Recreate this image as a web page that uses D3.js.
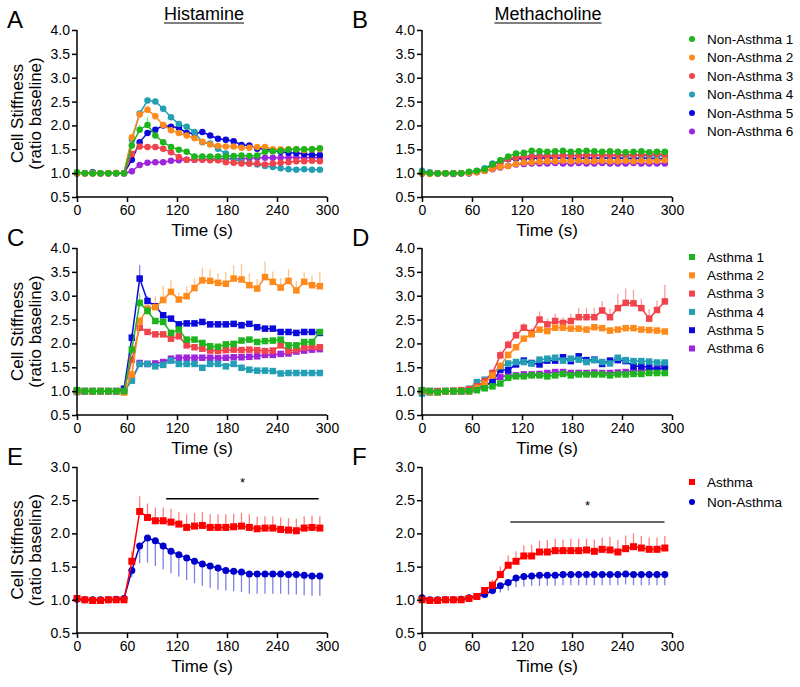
<!DOCTYPE html>
<html><head><meta charset="utf-8">
<script src="https://cdn.jsdelivr.net/npm/d3@7"></script>
<style>
body{margin:0;background:#fff}
text{font-family:"Liberation Sans",Arial,sans-serif;fill:#000}
</style>
</head><body>
<svg id="chart" width="800" height="687"></svg>
<script>
// ---------- DATA ----------
const times = [0,9.4,18.8,28.2,37.6,47,56.4,65.8,75.2,84.6,94,103.4,112.8,122.2,131.6,141,150.4,159.8,169.2,178.6,188,197.4,206.8,216.2,225.6,235,244.4,253.8,263.2,272.6,282,291.4];
const xTicks = [0,60,120,180,240,300];
const yTicksTall = [0.5,1.0,1.5,2.0,2.5,3.0,3.5,4.0];
const yTicksShort = [0.5,1.0,1.5,2.0,2.5,3.0];

const naNames = ["Non-Asthma 1","Non-Asthma 2","Non-Asthma 3","Non-Asthma 4","Non-Asthma 5","Non-Asthma 6"];
const aNames = ["Asthma 1","Asthma 2","Asthma 3","Asthma 4","Asthma 5","Asthma 6"];
const groupNames = ["Asthma","Non-Asthma"];

// Panel A: Histamine, Non-Asthma
const naHist1 = [1.02,1.0,0.99,1.0,1.0,1.0,1.0,1.58,1.91,2.01,1.79,1.65,1.55,1.49,1.45,1.35,1.35,1.35,1.35,1.35,1.36,1.37,1.36,1.37,1.45,1.46,1.47,1.49,1.5,1.5,1.5,1.52];
const naHist2 = [1.0,0.99,1.0,1.0,1.0,1.01,1.0,1.75,2.23,2.33,2.19,2.01,1.9,1.84,1.79,1.73,1.66,1.6,1.57,1.56,1.56,1.53,1.53,1.55,1.55,1.5,1.5,1.5,1.5,1.48,1.5,1.5];
const naHist3 = [1.0,1.0,1.0,0.99,1.0,1.0,1.0,1.4,1.56,1.55,1.55,1.51,1.44,1.34,1.28,1.28,1.28,1.27,1.27,1.23,1.22,1.2,1.2,1.2,1.18,1.2,1.22,1.23,1.25,1.25,1.26,1.25];
const naHist4 = [1.0,1.0,1.01,1.0,1.0,1.0,1.0,1.7,2.25,2.52,2.5,2.35,2.17,2.03,1.97,1.86,1.65,1.62,1.51,1.41,1.3,1.23,1.2,1.18,1.15,1.13,1.1,1.08,1.07,1.08,1.07,1.07];
const naHist5 = [1.0,1.0,1.02,1.0,1.0,1.0,1.0,1.28,1.65,1.84,1.91,2.0,1.97,1.95,1.84,1.83,1.86,1.79,1.72,1.7,1.67,1.59,1.58,1.51,1.51,1.47,1.45,1.43,1.42,1.4,1.38,1.38];
const naHist6 = [1.0,1.0,1.0,1.0,1.0,1.0,1.0,1.04,1.17,1.22,1.23,1.23,1.26,1.27,1.28,1.28,1.29,1.29,1.3,1.3,1.3,1.3,1.31,1.32,1.32,1.32,1.32,1.33,1.33,1.32,1.32,1.32];
const naHist1Err = [0,0,0,0,0,0,0,0.05,0.1,0.16,0.05,0.03,0.02,0.02,0.02,0.02,0.02,0.02,0.02,0.02,0.02,0.02,0.02,0.02,0.02,0.02,0.02,0.02,0.02,0.02,0.02,0.02];
const naHist2Err = [0,0,0,0,0,0,0,0.04,0.06,0.1,0.08,0.04,0.03,0.03,0.02,0.02,0.02,0.02,0.02,0.02,0.02,0.02,0.02,0.02,0.02,0.02,0.02,0.02,0.02,0.02,0.02,0.02];
const naHist4Err = [0,0,0,0,0,0,0,0.04,0.05,0.06,0.06,0.05,0.04,0.03,0.03,0.03,0.02,0.02,0.02,0.02,0.02,0.02,0.02,0.02,0.02,0.02,0.02,0.02,0.02,0.02,0.02,0.02];

// Panel B: Methacholine, Non-Asthma
const naMeth1 = [1.02,1.0,0.99,1.0,1.0,1.0,1.03,1.05,1.08,1.18,1.27,1.35,1.41,1.43,1.47,1.46,1.45,1.46,1.47,1.45,1.46,1.47,1.46,1.45,1.46,1.45,1.44,1.45,1.46,1.44,1.45,1.45];
const naMeth2 = [0.99,0.98,0.99,1.0,0.99,1.0,1.0,1.02,1.05,1.09,1.13,1.15,1.19,1.22,1.23,1.24,1.25,1.25,1.26,1.25,1.26,1.25,1.25,1.26,1.25,1.25,1.26,1.25,1.26,1.25,1.26,1.27];
const naMeth3 = [1.0,1.0,1.0,1.0,1.0,1.0,1.01,1.03,1.05,1.1,1.2,1.3,1.33,1.34,1.35,1.35,1.36,1.36,1.37,1.37,1.37,1.38,1.37,1.38,1.38,1.38,1.39,1.38,1.39,1.39,1.4,1.39];
const naMeth4 = [1.05,1.02,1.0,1.0,0.99,1.0,1.02,1.04,1.1,1.2,1.26,1.3,1.33,1.35,1.36,1.37,1.37,1.37,1.38,1.37,1.37,1.37,1.38,1.37,1.37,1.37,1.36,1.37,1.37,1.36,1.37,1.36];
const naMeth5 = [0.99,1.0,0.99,1.0,0.98,1.0,1.0,1.04,1.08,1.18,1.25,1.29,1.3,1.3,1.31,1.31,1.32,1.31,1.32,1.3,1.31,1.32,1.31,1.31,1.32,1.31,1.31,1.3,1.31,1.31,1.3,1.3];
const naMeth6 = [1.0,1.0,1.0,0.99,1.0,1.0,1.0,1.02,1.05,1.08,1.12,1.15,1.18,1.19,1.2,1.2,1.2,1.21,1.2,1.2,1.21,1.2,1.2,1.21,1.2,1.2,1.2,1.21,1.2,1.2,1.2,1.2];

// Panel C: Histamine, Asthma
const aHist1 = [1.02,1.0,1.0,1.0,1.0,1.0,1.0,1.87,2.85,2.68,2.47,2.45,2.22,2.29,2.08,2.08,2.01,1.94,1.93,1.98,1.99,2.06,2.08,2.03,2.05,2.06,2.08,1.96,1.96,2.03,2.03,2.24];
const aHist2 = [1.0,1.0,1.0,1.0,1.0,1.0,0.97,1.35,2.47,2.73,2.76,2.91,3.08,2.92,2.99,3.16,3.32,3.31,3.27,3.25,3.36,3.34,3.22,3.15,3.39,3.29,3.17,3.31,3.11,3.29,3.22,3.2];
const aHist3 = [1.0,1.0,1.0,1.0,1.0,1.0,1.0,1.66,2.33,2.24,2.19,2.19,2.1,2.15,1.96,1.92,1.89,1.85,1.84,1.86,1.87,1.86,1.87,1.86,1.84,1.85,1.96,1.84,1.87,1.91,1.93,1.92];
const aHist4 = [0.98,1.0,1.0,1.0,1.0,1.0,1.0,1.22,1.57,1.57,1.52,1.55,1.64,1.57,1.57,1.57,1.49,1.57,1.57,1.52,1.57,1.49,1.45,1.43,1.43,1.42,1.37,1.38,1.38,1.38,1.38,1.38];
const aHist5 = [1.0,1.0,1.0,1.0,1.0,1.0,1.05,2.12,3.36,2.89,2.78,2.59,2.52,2.4,2.42,2.42,2.45,2.4,2.4,2.4,2.41,2.38,2.41,2.34,2.31,2.31,2.24,2.24,2.22,2.24,2.24,2.22];
const aHist6 = [1.0,1.0,1.0,1.0,1.0,1.0,1.0,1.24,1.59,1.57,1.58,1.61,1.68,1.7,1.7,1.7,1.7,1.7,1.69,1.7,1.71,1.71,1.72,1.73,1.76,1.76,1.78,1.79,1.83,1.85,1.87,1.88];
const aHist1Err = [0,0,0,0,0,0,0,0.1,0.2,0.1,0.05,0.05,0.04,0.04,0.04,0.04,0.04,0.04,0.04,0.04,0.04,0.04,0.04,0.04,0.04,0.04,0.04,0.04,0.04,0.04,0.04,0.04];
const aHist2Err = [0,0,0,0,0,0,0,0.05,0.1,0.1,0.23,0.3,0.25,0.15,0.2,0.2,0.27,0.25,0.2,0.25,0.28,0.33,0.25,0.2,0.32,0.22,0.2,0.25,0.2,0.22,0.2,0.3];
const aHist3Err = [0,0,0,0,0,0,0,0.05,0.1,0.06,0.05,0.04,0.04,0.04,0.04,0.04,0.04,0.04,0.04,0.04,0.04,0.04,0.04,0.04,0.04,0.04,0.04,0.04,0.04,0.04,0.04,0.04];
const aHist5Err = [0,0,0,0,0,0,0,0.1,0.28,0.1,0.06,0.06,0.05,0.05,0.05,0.05,0.05,0.05,0.05,0.05,0.05,0.08,0.05,0.05,0.05,0.05,0.05,0.05,0.05,0.05,0.05,0.05];

// Panel D: Methacholine, Asthma
const aMeth1 = [1.02,1.0,0.98,1.0,1.0,1.0,1.0,1.02,1.06,1.1,1.16,1.28,1.31,1.31,1.33,1.33,1.31,1.33,1.36,1.33,1.35,1.35,1.35,1.35,1.33,1.35,1.35,1.36,1.36,1.38,1.38,1.38];
const aMeth2 = [1.0,0.98,0.97,1.0,1.0,1.0,0.99,1.07,1.16,1.33,1.53,1.76,1.92,2.1,2.19,2.29,2.26,2.33,2.33,2.31,2.31,2.29,2.34,2.32,2.27,2.29,2.32,2.32,2.29,2.28,2.27,2.25];
const aMeth3 = [1.02,1.0,1.0,1.0,1.01,1.02,1.04,1.1,1.21,1.38,1.75,1.97,2.17,2.33,2.22,2.5,2.4,2.47,2.43,2.47,2.55,2.55,2.55,2.69,2.55,2.74,2.85,2.84,2.74,2.52,2.7,2.88];
const aMeth4 = [0.95,0.97,0.98,1.0,1.0,1.02,1.05,1.19,1.24,1.37,1.52,1.58,1.61,1.61,1.58,1.66,1.68,1.7,1.64,1.68,1.66,1.61,1.65,1.61,1.58,1.7,1.65,1.63,1.63,1.62,1.6,1.6];
const aMeth5 = [1.0,1.0,1.0,1.0,1.0,1.0,1.02,1.1,1.12,1.19,1.45,1.44,1.56,1.64,1.59,1.56,1.64,1.64,1.71,1.63,1.73,1.65,1.66,1.57,1.64,1.65,1.63,1.52,1.52,1.5,1.45,1.5];
const aMeth6 = [1.0,1.0,0.98,1.0,1.0,1.0,1.0,1.05,1.12,1.2,1.3,1.33,1.33,1.35,1.35,1.36,1.38,1.4,1.4,1.38,1.38,1.38,1.39,1.38,1.38,1.39,1.4,1.42,1.43,1.45,1.5,1.55];
const aMeth3Err = [0,0,0,0,0,0,0,0.03,0.05,0.08,0.1,0.1,0.12,0.1,0.1,0.17,0.12,0.15,0.12,0.15,0.2,0.2,0.2,0.2,0.18,0.3,0.3,0.28,0.2,0.2,0.2,0.35];

// Panel E: Histamine, group means
const eAsthma = [1.02,1.0,0.99,0.99,1.0,1.0,1.0,1.58,2.33,2.24,2.19,2.19,2.17,2.14,2.09,2.11,2.12,2.09,2.09,2.09,2.1,2.11,2.09,2.07,2.08,2.08,2.06,2.05,2.04,2.08,2.09,2.08];
const eAsthmaErr = [0.02,0.01,0.01,0.01,0.01,0.01,0.02,0.15,0.23,0.21,0.2,0.2,0.2,0.18,0.2,0.2,0.2,0.2,0.2,0.2,0.2,0.2,0.2,0.18,0.18,0.18,0.18,0.18,0.18,0.18,0.18,0.18];
const eNonAsthma = [1.01,1.0,1.0,1.0,1.0,1.01,1.02,1.44,1.81,1.93,1.89,1.81,1.73,1.68,1.63,1.58,1.54,1.51,1.48,1.44,1.43,1.42,1.39,1.39,1.39,1.39,1.39,1.38,1.38,1.37,1.36,1.36];
const eNonAsthmaErr = [0.01,0.01,0.01,0.01,0.01,0.01,0.02,0.1,0.26,0.37,0.38,0.35,0.33,0.33,0.33,0.33,0.33,0.33,0.33,0.3,0.3,0.3,0.3,0.3,0.3,0.3,0.3,0.3,0.3,0.3,0.3,0.3];

// Panel F: Methacholine, group means
const fAsthma = [1.0,0.99,0.99,1.0,1.0,1.0,1.02,1.05,1.14,1.22,1.38,1.52,1.58,1.66,1.66,1.72,1.72,1.74,1.74,1.74,1.74,1.75,1.73,1.76,1.75,1.72,1.77,1.8,1.78,1.76,1.76,1.78];
const fAsthmaErr = [0,0,0,0,0,0,0.01,0.02,0.05,0.08,0.12,0.15,0.15,0.16,0.17,0.17,0.18,0.18,0.17,0.18,0.18,0.17,0.18,0.18,0.2,0.18,0.2,0.2,0.18,0.18,0.18,0.18];
const fNonAsthma = [1.03,1.0,1.0,1.0,1.0,1.01,1.03,1.05,1.08,1.14,1.21,1.26,1.33,1.35,1.36,1.37,1.37,1.37,1.38,1.38,1.38,1.38,1.38,1.38,1.38,1.38,1.39,1.38,1.38,1.38,1.38,1.38];
const fNonAsthmaErr = [0,0,0,0,0,0,0.01,0.02,0.04,0.06,0.1,0.12,0.14,0.15,0.15,0.16,0.16,0.16,0.16,0.16,0.16,0.16,0.16,0.16,0.16,0.16,0.16,0.16,0.16,0.16,0.16,0.16];

// significance annotations (data units: start time, end time, level)
const sigE = [107, 290, 2.52];
const sigF = [106, 291, 2.17];

// ---------- STYLE ----------
const palette = ["#1db41d","#ff8a1c","#f0434b","#229fb5","#0a0adc","#9d26dc"];
const groupColors = ["#ff0000","#0000cc"];

const svg = d3.select("#chart");
const FONT = "'Liberation Sans',Arial,sans-serif";

function panel(cfg) {
  const x = d3.scaleLinear().domain([0,300]).range([cfg.left, cfg.left+250]);
  const y = d3.scaleLinear().domain([0.5, cfg.yMax]).range([cfg.bottom, cfg.top]);
  const g = svg.append("g");

  const ser = cfg.series.slice().reverse();
  ser.forEach(s => {
    const pts = times.map((t,i) => ({t, v:s.values[i], e: s.err ? s.err[i] : 0}));
    g.append("g").selectAll("line").data(pts.filter(p => p.e > 0.015)).join("line")
      .attr("x1", p => x(p.t)).attr("x2", p => x(p.t))
      .attr("y1", p => y(p.v)).attr("y2", p => y(p.v + s.dir*p.e))
      .attr("stroke", s.color).attr("stroke-opacity", 0.5).attr("stroke-width", 1.3);
    g.append("path").datum(pts)
      .attr("d", d3.line().x(p => x(p.t)).y(p => y(p.v)))
      .attr("fill","none").attr("stroke", s.color).attr("stroke-width", 1.5);
    if (s.shape === "circle") {
      g.append("g").selectAll("circle").data(pts).join("circle")
        .attr("cx", p => x(p.t)).attr("cy", p => y(p.v)).attr("r", s.size/2)
        .attr("fill", s.color);
    } else {
      g.append("g").selectAll("rect").data(pts).join("rect")
        .attr("x", p => x(p.t)-s.size/2).attr("y", p => y(p.v)-s.size/2)
        .attr("width", s.size).attr("height", s.size).attr("fill", s.color);
    }
  });

  const ax = g.append("g").attr("transform", `translate(0,${cfg.bottom})`)
    .call(d3.axisBottom(x).tickValues(xTicks).tickSize(5).tickSizeOuter(0).tickPadding(3).tickFormat(d3.format("d")));
  const ay = g.append("g").attr("transform", `translate(${cfg.left},0)`)
    .call(d3.axisLeft(y).tickValues(cfg.yTicks).tickSize(5).tickSizeOuter(0).tickPadding(2).tickFormat(d3.format(".1f")));
  [ax, ay].forEach(a => {
    a.selectAll("path,line").attr("stroke","#000").attr("stroke-width",1.5);
    a.selectAll("text").attr("font-size",14).attr("font-family",FONT).attr("fill","#000");
  });
  ax.select(".domain").attr("d", `M${cfg.left-0.75},0H${cfg.left+250}`);
  ay.select(".domain").attr("d", `M0,${cfg.bottom+0.75}V${cfg.top}`);

  g.append("text").attr("x", cfg.left+125).attr("y", cfg.bottom+39)
    .attr("text-anchor","middle").attr("font-size",17).text("Time (s)");

  if (cfg.yTitle) {
    const cy = (cfg.top + cfg.bottom)/2;
    g.append("text").attr("transform", `translate(23,${cy}) rotate(-90)`)
      .attr("text-anchor","middle").attr("font-size",17).text("Cell Stiffness");
    g.append("text").attr("transform", `translate(41,${cy}) rotate(-90)`)
      .attr("text-anchor","middle").attr("font-size",17).text("(ratio baseline)");
  }
  g.append("text").attr("x", cfg.left-70).attr("y", cfg.top-2)
    .attr("font-size",24).text(cfg.letter);

  if (cfg.sig) {
    g.append("line").attr("x1", x(cfg.sig[0])).attr("x2", x(cfg.sig[1]))
      .attr("y1", y(cfg.sig[2])).attr("y2", y(cfg.sig[2]))
      .attr("stroke", cfg.sigColor).attr("stroke-width", 1.5);
    g.append("text").attr("x", x((cfg.sig[0]+cfg.sig[1])/2)).attr("y", y(cfg.sig[2]) - 12)
      .attr("text-anchor","middle").attr("font-size",13).text("*");
  }

  if (cfg.legend) {
    const lg = g.append("g");
    cfg.legend.items.forEach((it, i) => {
      const ly = cfg.legend.y + i*cfg.legend.step;
      if (it.shape === "circle") {
        lg.append("circle").attr("cx", 692).attr("cy", ly).attr("r", 3).attr("fill", it.color);
      } else {
        lg.append("rect").attr("x", 689).attr("y", ly-3).attr("width", 6).attr("height", 6).attr("fill", it.color);
      }
      lg.append("text").attr("x", 707).attr("y", ly).attr("dy","0.35em")
        .attr("font-size",13.5).text(it.name);
    });
  }
}

function mk(names, arrays, errs, shape, size, colors) {
  return names.map((n,i) => ({name:n, values:arrays[i], err:errs[i], shape, size, color:colors[i], dir:1}));
}

const seriesA = mk(naNames, [naHist1,naHist2,naHist3,naHist4,naHist5,naHist6], [naHist1Err,naHist2Err,null,naHist4Err,null,null], "circle", 6.5, palette);
const seriesB = mk(naNames, [naMeth1,naMeth2,naMeth3,naMeth4,naMeth5,naMeth6], [null,null,null,null,null,null], "circle", 6.5, palette);
const seriesC = mk(aNames, [aHist1,aHist2,aHist3,aHist4,aHist5,aHist6], [aHist1Err,aHist2Err,aHist3Err,null,aHist5Err,null], "square", 6.5, palette);
const seriesD = mk(aNames, [aMeth1,aMeth2,aMeth3,aMeth4,aMeth5,aMeth6], [null,null,aMeth3Err,null,null,null], "square", 6.5, palette);
const seriesE = [
  {name:groupNames[0], values:eAsthma, err:eAsthmaErr, shape:"square", size:7, color:groupColors[0], dir:1},
  {name:groupNames[1], values:eNonAsthma, err:eNonAsthmaErr, shape:"circle", size:7, color:groupColors[1], dir:-1}];
const seriesF = [
  {name:groupNames[0], values:fAsthma, err:fAsthmaErr, shape:"square", size:7, color:groupColors[0], dir:1},
  {name:groupNames[1], values:fNonAsthma, err:fNonAsthmaErr, shape:"circle", size:7, color:groupColors[1], dir:-1}];

const rows = [{top:30,bottom:197},{top:248,bottom:415},{top:467,bottom:633}];

panel({left:77, ...rows[0], yMax:4, yTicks:yTicksTall, series:seriesA, yTitle:true, letter:"A"});
panel({left:422, ...rows[0], yMax:4, yTicks:yTicksTall, series:seriesB, yTitle:false, letter:"B",
  legend:{y:39, step:18.5, items:seriesA.map(s=>({name:s.name,color:s.color,shape:"circle"}))}});
panel({left:77, ...rows[1], yMax:4, yTicks:yTicksTall, series:seriesC, yTitle:true, letter:"C"});
panel({left:422, ...rows[1], yMax:4, yTicks:yTicksTall, series:seriesD, yTitle:false, letter:"D",
  legend:{y:257, step:18.3, items:seriesC.map(s=>({name:s.name,color:s.color,shape:"square"}))}});
panel({left:77, ...rows[2], yMax:3, yTicks:yTicksShort, series:seriesE, yTitle:true, letter:"E", sig:sigE, sigColor:"#000"});
panel({left:422, ...rows[2], yMax:3, yTicks:yTicksShort, series:seriesF, yTitle:false, letter:"F", sig:sigF, sigColor:"#333",
  legend:{y:482, step:20, items:seriesE.map(s=>({name:s.name,color:s.color,shape:s.shape}))}});

[["Histamine",204],["Methacholine",548]].forEach(([t,cx]) => {
  const tx = svg.append("text").attr("x",cx).attr("y",20).attr("text-anchor","middle")
    .attr("font-size",18).text(t);
  const w = tx.node().getComputedTextLength();
  svg.append("line").attr("x1",cx-w/2).attr("x2",cx+w/2).attr("y1",23).attr("y2",23)
    .attr("stroke","#000").attr("stroke-width",1.2);
});
</script>
</body></html>
